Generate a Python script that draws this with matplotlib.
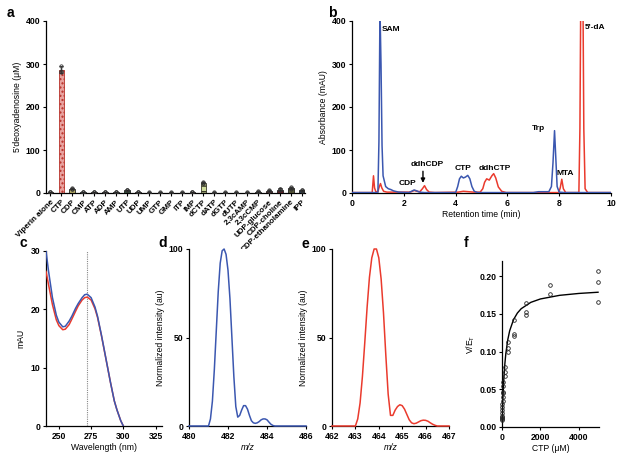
import matplotlib
matplotlib.use('Agg')
import matplotlib.pyplot as plt

plt.rcParams['font.family'] = ['Liberation Sans', 'DejaVu Sans']
plt.rcParams['mathtext.fontset'] = 'custom'
plt.rcParams['mathtext.rm'] = 'Liberation Sans'
plt.rcParams['mathtext.it'] = 'Liberation Sans:italic'

# ---------------- Panel a data ----------------
a_categories = ['Viperin alone', 'CTP', 'CDP', 'CMP', 'ATP', 'ADP', 'AMP', 'UTP', 'UDP',
                'UMP', 'GTP', 'GMP', 'ITP', 'IMP', 'dCTP', 'dATP', 'dGTP', 'dUTP',
                '2,3cAMP', '2,3cCMP', 'UDP-glucose', 'CDP-choline', 'CDP-ethanolamine', 'IPP']
a_means = [2, 287, 10, 2, 2, 2, 2, 6, 2, 1, 1, 1, 1, 2, 24, 1, 1, 1, 1, 3, 5, 8, 11, 6]
a_sd = [1, 8, 1.5, 1, 1, 1, 1, 1.5, 1, 1, 1, 1, 1, 1, 1.5, 1, 1, 1, 1, 1, 1.5, 2.5, 2.5, 1.5]
a_points = [[2, 2, 3], [296, 283, 281], [11, 10, 10], [2, 2, 3], [2, 2, 3], [2, 2, 3],
            [2, 2, 2], [6, 7, 6], [2, 2, 3], [1, 1, 2], [1, 1, 2], [1, 1, 2], [1, 1, 2],
            [2, 2, 3], [25, 24, 23], [1, 1, 2], [1, 1, 2], [1, 1, 2], [1, 1, 2], [3, 3, 4],
            [5, 6, 5], [7, 9, 10], [10, 12, 13], [5, 6, 7]]
a_yticks = [0, 100, 200, 300, 400]

# ---------------- Panel b data ----------------
b_blue_t = [0, 1.0, 1.04, 1.08, 1.12, 1.16, 1.2, 1.3, 1.4, 1.5, 1.6, 1.8, 2.0, 2.2, 2.3, 2.4,
            2.5, 2.6, 2.8, 4.0, 4.08, 4.15, 4.22, 4.3, 4.38, 4.47, 4.55, 4.63, 4.72, 4.85,
            7.0, 7.2, 7.6, 7.7, 7.76, 7.82, 7.87, 7.92, 8.0, 8.2, 10]
b_blue_y = [1, 1, 120, 430, 300, 110, 40, 15, 10, 8, 5, 2, 1.5, 1, 4, 7, 5, 2, 1, 1, 15, 33,
            39, 35, 37, 41, 33, 15, 4, 1, 1, 3, 3, 15, 70, 145, 80, 15, 2, 1, 1]
b_red_t = [0, 0.78, 0.83, 0.87, 0.92, 1.0, 1.05, 1.1, 1.15, 1.22, 1.35, 2.2, 2.3, 2.4, 2.5,
           2.62, 2.72, 2.8, 2.88, 2.98, 3.2, 4.1, 4.3, 4.5, 4.7, 4.95, 5.05, 5.12, 5.2,
           5.3, 5.4, 5.47, 5.55, 5.65, 5.78, 5.95, 7.98, 8.04, 8.1, 8.16, 8.25, 8.76, 8.8,
           8.83, 8.92, 8.95, 9.0, 9.1, 10]
b_red_y = [1, 1, 40, 12, 3, 3, 14, 22, 12, 4, 2, 2, 3, 6, 4, 3, 10, 17, 8, 2, 1, 2, 4, 3, 2,
           2, 10, 25, 33, 30, 40, 45, 35, 14, 4, 1, 1, 12, 32, 10, 1, 1, 150, 430, 430, 150,
           10, 1, 1]
b_labels = ['SAM', "5'-dA", 'Trp', 'MTA', 'CDP', 'ddhCDP', 'CTP', 'ddhCTP']
b_label_x = [1.15, 8.97, 6.95, 7.9, 1.8, 2.27, 3.96, 4.88]
b_label_y = [380, 385, 150, 45, 21, 67, 56, 56]

# ---------------- Panel c data ----------------
c_wl = [240, 242, 245, 248, 250, 253, 255, 258, 260, 263, 265, 268, 270, 272, 275, 278,
        280, 283, 285, 288, 290, 293, 295, 298, 300]
c_blue = [30.0, 26.5, 22.0, 19.0, 17.8, 17.0, 17.1, 18.0, 18.8, 20.2, 21.0, 22.0, 22.5,
          22.6, 22.0, 20.4, 18.8, 15.6, 13.3, 9.8, 7.5, 4.3, 2.8, 0.9, 0]
c_red = [26.5, 24.2, 20.8, 18.2, 17.2, 16.5, 16.6, 17.4, 18.3, 19.7, 20.6, 21.6, 22.0,
         22.1, 21.6, 20.1, 18.6, 15.5, 13.2, 9.8, 7.5, 4.3, 2.8, 0.9, 0]
c_marker_wl = 271.7

# ---------------- Panel d data ----------------
d_mz = [480, 481.0, 481.1, 481.2, 481.3, 481.4, 481.5, 481.6, 481.7, 481.8, 481.9, 482.0,
        482.1, 482.2, 482.3, 482.4, 482.5, 482.6, 482.7, 482.8, 482.9, 483.0, 483.1, 483.2,
        483.3, 483.4, 483.5, 483.6, 483.7, 483.8, 483.9, 484.0, 484.1, 484.2, 484.3, 484.4, 486]
d_int = [0, 0, 4, 14, 32, 54, 76, 92, 99, 100, 97, 88, 72, 50, 28, 11, 5, 6, 9, 11.5, 11.5,
         9.5, 6, 3, 1.8, 1.5, 1.8, 2.5, 3.5, 4, 4, 3.5, 2.2, 1, 0.3, 0, 0]

# ---------------- Panel e data ----------------
e_mz = [462, 463.0, 463.1, 463.2, 463.3, 463.4, 463.5, 463.6, 463.7, 463.8, 463.9, 464.0,
        464.1, 464.2, 464.3, 464.4, 464.5, 464.6, 464.7, 464.8, 464.9, 465.0, 465.1, 465.2,
        465.3, 465.4, 465.5, 465.6, 465.7, 465.8, 465.9, 466.0, 466.1, 466.2, 466.3, 466.4,
        466.5, 467]
e_int = [0, 0, 4, 13, 28, 47, 67, 84, 95, 100, 100, 95, 83, 64, 40, 18, 6, 6, 9, 11, 12,
         11.5, 9.5, 6.5, 3.5, 1.8, 1.3, 1.6, 2.3, 3, 3.3, 3.2, 2.7, 1.8, 1, 0.4, 0, 0]

# ---------------- Panel f data ----------------
f_ctp = [5000, 5000, 5000, 2500, 2500, 1250, 1250, 1250, 625, 625, 625, 312, 312, 312,
         156, 156, 156, 78, 78, 78, 39, 39, 39, 20, 20, 20, 10, 10, 10, 5, 5, 5]
f_rate = [0.207, 0.192, 0.166, 0.188, 0.176, 0.165, 0.152, 0.148, 0.142, 0.123, 0.121,
          0.112, 0.105, 0.099, 0.080, 0.073, 0.067, 0.060, 0.055, 0.047, 0.045, 0.040,
          0.035, 0.030, 0.027, 0.022, 0.018, 0.015, 0.013, 0.012, 0.010, 0.009]
f_fit_x = [0, 10, 25, 50, 100, 150, 200, 300, 400, 600, 800, 1000, 1500, 2000, 3000,
           4000, 5000]
f_fit_y = [0, 0.0097, 0.0226, 0.0402, 0.0661, 0.0841, 0.0974, 0.1156, 0.1276, 0.1423,
           0.1510, 0.1568, 0.1652, 0.1697, 0.1745, 0.1770, 0.1786]

BLUE = '#3b57b0'
RED = '#ea3a2d'
W, H = 620, 458
TICK_FS = 6.2
LAB_FS = 6.2


def rect(l, t, r, b):
    return [l / W, 1 - b / H, (r - l) / W, (b - t) / H]


def style(ax):
    for s in ['top', 'right']:
        ax.spines[s].set_visible(False)
    for s in ['left', 'bottom']:
        ax.spines[s].set_linewidth(0.9)
    ax.tick_params(labelsize=TICK_FS, length=2.5, width=0.8, pad=1.5)


def boldticks(ax):
    plt.setp(ax.get_xticklabels(), fontweight='bold')
    plt.setp(ax.get_yticklabels(), fontweight='bold')


fig = plt.figure(figsize=(W / 100, H / 100), dpi=100)

# ---- a ----
ax = fig.add_axes(rect(46, 21, 305, 193))
style(ax)
bar_colors = ['#6b1f2a', '#e9a3a0', '#b8b06a', '#2f5561', '#6b1f2a', '#6b1f2a', '#3a3a3a',
              '#2f5a3a', '#6b1f2a', '#3a3a3a', '#2f5a3a', '#3a3a3a', '#3a3a3a', '#6b1f2a',
              '#cfdc9c', '#3a3a3a', '#3a3a3a', '#3a3a3a', '#3a3a3a', '#3a3a3a', '#6b1f2a',
              '#6b1f2a', '#5a5a3a', '#2f4a6a']
xs = list(range(len(a_categories)))
bars = ax.bar(xs, a_means, width=0.5, color=bar_colors, edgecolor='#222222', linewidth=0.6,
              zorder=2)
bars[1].set_edgecolor('#b8322a')
bars[1].set_hatch('....')
bars[14].set_hatch('---')
bars[14].set_edgecolor('#3a3a2a')
ax.errorbar(xs, a_means, yerr=a_sd, fmt='none', ecolor='#222222', elinewidth=0.6,
            capsize=1.5, capthick=0.6, zorder=3)
for i, pts in enumerate(a_points):
    ax.plot([i] * len(pts), pts, 'o', ms=2.4, mfc='none', mec='#333333', mew=0.6, zorder=4)
ax.set_xlim(-0.4, 23.3)
ax.set_ylim(0, 400)
ax.set_yticks(a_yticks)
ax.set_xticks(xs)
ax.set_xticklabels(a_categories, rotation=45, ha='right', rotation_mode='anchor', fontsize=5.8)
ax.set_ylabel('5\'deoxyadenosine (μM)', fontsize=LAB_FS, labelpad=3)
boldticks(ax)

# ---- b ----
ax = fig.add_axes(rect(352, 21, 611, 193))
style(ax)
ax.plot(b_red_t, b_red_y, color=RED, lw=1.1, zorder=3)
ax.plot(b_blue_t, b_blue_y, color=BLUE, lw=1.1, zorder=4)
ax.set_xlim(0, 10)
ax.set_ylim(0, 400)
ax.set_xticks([0, 2, 4, 6, 8, 10])
ax.set_yticks([0, 100, 200, 300, 400])
ax.set_xlabel('Retention time (min)', fontsize=LAB_FS, labelpad=2)
ax.set_ylabel('Absorbance (mAU)', fontsize=LAB_FS, labelpad=3)
for lab, x, y in zip(b_labels, b_label_x, b_label_y):
    ax.text(x, y, lab, fontsize=6.0, fontweight='bold', ha='left', va='center', zorder=5)
ax.annotate('', xy=(2.74, 17), xytext=(2.74, 57),
            arrowprops=dict(arrowstyle='-|>', color='black', lw=1.0, mutation_scale=6))
boldticks(ax)

# ---- c ----
ax = fig.add_axes(rect(46, 251, 162, 426))
style(ax)
ax.plot(c_wl, c_red, color=RED, lw=1.1, zorder=3)
ax.plot(c_wl, c_blue, color=BLUE, lw=1.1, zorder=4)
ax.axvline(c_marker_wl, color='#888888', lw=0.8, ls=(0, (1, 1)), zorder=2)
ax.set_xlim(240, 330)
ax.set_ylim(0, 30)
ax.set_xticks([250, 275, 300, 325])
ax.set_yticks([0, 10, 20, 30])
ax.set_xlabel('Wavelength (nm)', fontsize=LAB_FS, labelpad=2)
ax.set_ylabel('mAU', fontsize=LAB_FS, labelpad=4)
boldticks(ax)

# ---- d ----
ax = fig.add_axes(rect(189, 249, 306, 426))
style(ax)
ax.plot(d_mz, d_int, color=BLUE, lw=1.1, zorder=4, clip_on=False)
ax.set_xlim(480, 486)
ax.set_ylim(0, 100)
ax.set_xticks([480, 482, 484, 486])
ax.set_yticks([0, 50, 100])
ax.set_xlabel('m/z', fontsize=LAB_FS, style='italic', labelpad=2)
ax.set_ylabel('Normalized intensity (au)', fontsize=LAB_FS, labelpad=3)
boldticks(ax)

# ---- e ----
ax = fig.add_axes(rect(332, 249, 449, 426))
style(ax)
ax.plot(e_mz, e_int, color=RED, lw=1.1, zorder=4, clip_on=False)
ax.set_xlim(462, 467)
ax.set_ylim(0, 100)
ax.set_xticks([462, 463, 464, 465, 466, 467])
ax.set_yticks([0, 50, 100])
ax.set_xlabel('m/z', fontsize=LAB_FS, style='italic', labelpad=2)
ax.set_ylabel('Normalized intensity (au)', fontsize=LAB_FS, labelpad=3)
boldticks(ax)

# ---- f ----
ax = fig.add_axes(rect(502, 261, 599, 427))
style(ax)
ax.plot(f_fit_x, f_fit_y, color='black', lw=1.0, zorder=3)
ax.plot(f_ctp, f_rate, 'o', ms=2.6, mfc='none', mec='#222222', mew=0.6, zorder=4,
        clip_on=False)
ax.set_xlim(0, 5050)
ax.set_ylim(0, 0.22)
ax.set_xticks([0, 2000, 4000])
ax.set_yticks([0.00, 0.05, 0.10, 0.15, 0.20])
ax.set_yticklabels(['0.00', '0.05', '0.10', '0.15', '0.20'])
ax.set_xlabel('CTP (μM)', fontsize=LAB_FS, labelpad=2)
ax.set_ylabel(r'V/E$_\mathregular{T}$', fontsize=LAB_FS, labelpad=2)
boldticks(ax)

# panel letters
for letter, x, y in [('a', 10, 13), ('b', 332, 13), ('c', 23, 243), ('d', 163, 243),
                     ('e', 305, 244), ('f', 466, 243)]:
    fig.text(x / W, 1 - y / H, letter, fontsize=10, fontweight='bold', ha='center',
             va='center')

fig.savefig('out.png', dpi=100)
